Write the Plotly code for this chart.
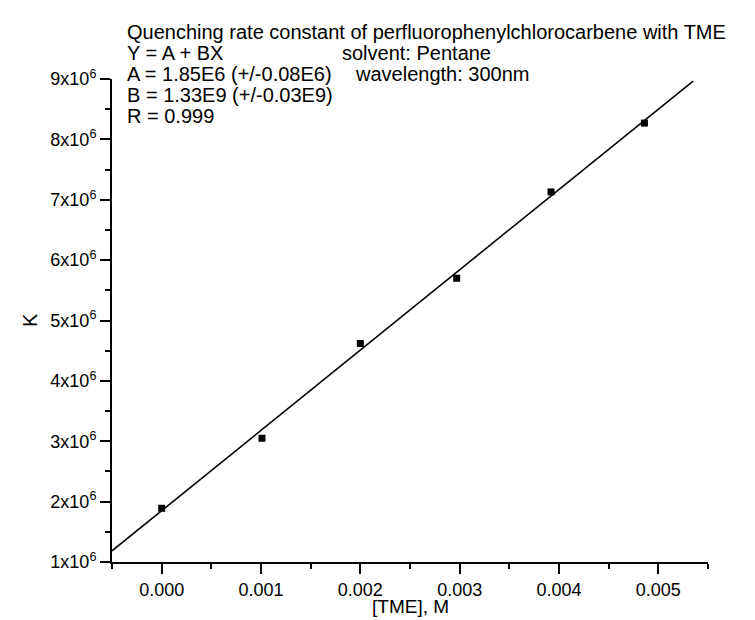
import plotly.graph_objects as go

# Data
tme = [0.0, 0.00101, 0.00200, 0.00297, 0.00392, 0.00486]
k_obs = [1.89e6, 3.05e6, 4.62e6, 5.70e6, 7.13e6, 8.27e6]

fit_A = 1.85e6
fit_B = 1.33e9
fit_x = [-0.0005, 0.00535]
fit_y = [fit_A + fit_B * x for x in fit_x]

x_ticks = [0.0, 0.001, 0.002, 0.003, 0.004, 0.005]
x_ticktext = ["0.000", "0.001", "0.002", "0.003", "0.004", "0.005"]
y_ticks = [1e6, 2e6, 3e6, 4e6, 5e6, 6e6, 7e6, 8e6, 9e6]
y_ticktext = [f"{i}x10<sup>6</sup>" for i in range(1, 10)]

W, H = 755, 620
L, R, T, B = 104, 55, 71, 66
pw, ph = W - L - R, H - T - B

def px(xp):
    return (xp - L) / pw

def py(yp):
    return (H - B - yp) / ph

FONT = "Liberation Sans, Arial, sans-serif"

fig = go.Figure()
fig.add_trace(go.Scatter(x=fit_x, y=fit_y, mode="lines",
                         line=dict(color="black", width=1.6),
                         showlegend=False, hoverinfo="skip"))
fig.add_trace(go.Scatter(x=tme, y=k_obs, mode="markers",
                         marker=dict(symbol="square", size=7, color="black"),
                         showlegend=False))

axis_common = dict(showline=True, linecolor="black", linewidth=2,
                   ticks="outside", ticklen=10, tickwidth=2, tickcolor="black",
                   showgrid=False, zeroline=False,
                   tickfont=dict(family=FONT, size=18, color="black"))

fig.update_xaxes(range=[-0.0005, 0.0055], tickmode="array",
                 tickvals=x_ticks, ticktext=x_ticktext,
                 minor=dict(ticks="outside", ticklen=5, tickwidth=2,
                            tickcolor="black", tick0=0, dtick=0.0005),
                 **axis_common)
fig.update_yaxes(range=[1e6, 9e6], tickmode="array",
                 tickvals=y_ticks, ticktext=y_ticktext,
                 minor=dict(ticks="outside", ticklen=5, tickwidth=2,
                            tickcolor="black", tick0=0, dtick=5e5),
                 **axis_common)

ann_font = dict(family=FONT, size=20, color="black")
texts = [
    ("Quenching rate constant of perfluorophenylchlorocarbene with TME", 117, 24),
    ("Y = A + BX", 117, 45),
    ("A = 1.85E6 (+/-0.08E6)", 117, 66),
    ("B = 1.33E9 (+/-0.03E9)", 117, 87),
    ("R = 0.999", 117, 108),
    ("solvent: Pentane", 332, 45),
    ("wavelength: 300nm", 345, 66),
]
for t, xx, yy in texts:
    fig.add_annotation(text=t, xref="paper", yref="paper", x=px(xx), y=py(yy),
                       xanchor="left", yanchor="middle", showarrow=False,
                       font=ann_font)

fig.add_annotation(text="[TME], M", xref="paper", yref="paper",
                   x=0.5 * (px(104) + px(700)), y=py(598), xanchor="center",
                   yanchor="middle", showarrow=False, borderpad=0,
                   font=dict(family=FONT, size=19, color="black"))
fig.add_annotation(text="K", xref="paper", yref="paper", x=px(22), y=py(312),
                   xanchor="center", yanchor="middle", showarrow=False,
                   textangle=-90, font=dict(family=FONT, size=20, color="black"))

fig.update_layout(width=W, height=H,
                  margin=dict(l=L, r=R, t=T, b=B),
                  paper_bgcolor="white", plot_bgcolor="white",
                  font=dict(family=FONT, color="black"))

fig.write_html("out.html")
